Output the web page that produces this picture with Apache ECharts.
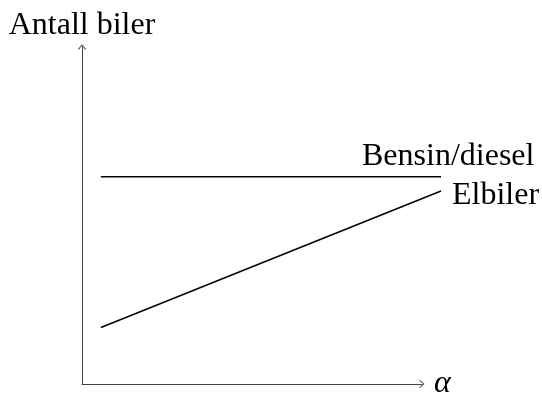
<!DOCTYPE html>
<html>
<head>
<meta charset="utf-8">
<script src="https://cdn.jsdelivr.net/npm/echarts@6/dist/echarts.min.js"></script>
<style>
html,body{margin:0;padding:0;background:#fff;}
#c{width:542px;height:394px;}
</style>
</head>
<body>
<div id="c"></div>
<script>
// Conceptual data (no numeric scale in the original)
const alpha = [1, 19];
const bensin = [11, 11];
const elbiler = [3, 10.25];
const seriesNames = ['Bensin/diesel', 'Elbiler'];
const yTitle = 'Antall biler';
const xTitle = 'α';

const font = '"Liberation Serif", "Times New Roman", serif';
const arrow = 'path://M0,0 L5,6 L4.2,6.7 L0,1.7 L-4.2,6.7 L-5,6 Z';

const hiddenAxis = {
  type: 'value', min: 0, max: 19, show: false,
  axisLine: {show: false}, axisTick: {show: false}, axisLabel: {show: false}, splitLine: {show: false}
};

const chart = echarts.init(document.getElementById('c'), null, {renderer: 'canvas'});
chart.setOption({
  animation: false,
  backgroundColor: '#fff',
  grid: [
    {left: 82, right: 120, top: 47, bottom: 10, containLabel: false, outerBoundsMode: 'none'},
    {left: 82, right: 101, top: 45, bottom: 10, containLabel: false, outerBoundsMode: 'none'}
  ],
  xAxis: [
    {
      gridIndex: 0, type: 'value', min: 0, max: 18,
      name: xTitle, nameLocation: 'end', nameGap: 12,
      nameTextStyle: {fontFamily: font, fontStyle: 'italic', fontSize: 32, color: '#000', verticalAlign: 'middle'},
      axisLine: {show: true, onZero: false, lineStyle: {color: '#444', width: 1}, symbol: ['none', arrow], symbolSize: [8, 6]},
      axisTick: {show: false}, axisLabel: {show: false}, splitLine: {show: false}
    },
    Object.assign({gridIndex: 1}, hiddenAxis)
  ],
  yAxis: [
    {
      gridIndex: 0, type: 'value', min: 0, max: 18,
      name: yTitle, nameLocation: 'end', nameGap: 5,
      nameTextStyle: {fontFamily: font, fontSize: 32, color: '#000', align: 'center'},
      axisLine: {show: true, onZero: false, lineStyle: {color: '#444', width: 1}, symbol: ['none', arrow], symbolSize: [8, 6]},
      axisTick: {show: false}, axisLabel: {show: false}, splitLine: {show: false}
    },
    Object.assign({gridIndex: 1}, hiddenAxis, {max: 18})
  ],
  series: [
    {
      name: seriesNames[0], type: 'line', xAxisIndex: 1, yAxisIndex: 1, symbol: 'none',
      data: alpha.map((a, i) => [a, bensin[i]]),
      lineStyle: {color: '#000', width: 1.5},
      endLabel: {show: true, formatter: seriesNames[0], fontFamily: font, fontSize: 32, color: '#000', distance: 0, offset: [-79, -20]}
    },
    {
      name: seriesNames[1], type: 'line', xAxisIndex: 1, yAxisIndex: 1, symbol: 'none',
      data: alpha.map((a, i) => [a, elbiler[i]]),
      lineStyle: {color: '#000', width: 1.5},
      endLabel: {show: true, formatter: seriesNames[1], fontFamily: font, fontSize: 32, color: '#000', distance: 0, offset: [11, 5]}
    }
  ]
});
</script>
</body>
</html>
